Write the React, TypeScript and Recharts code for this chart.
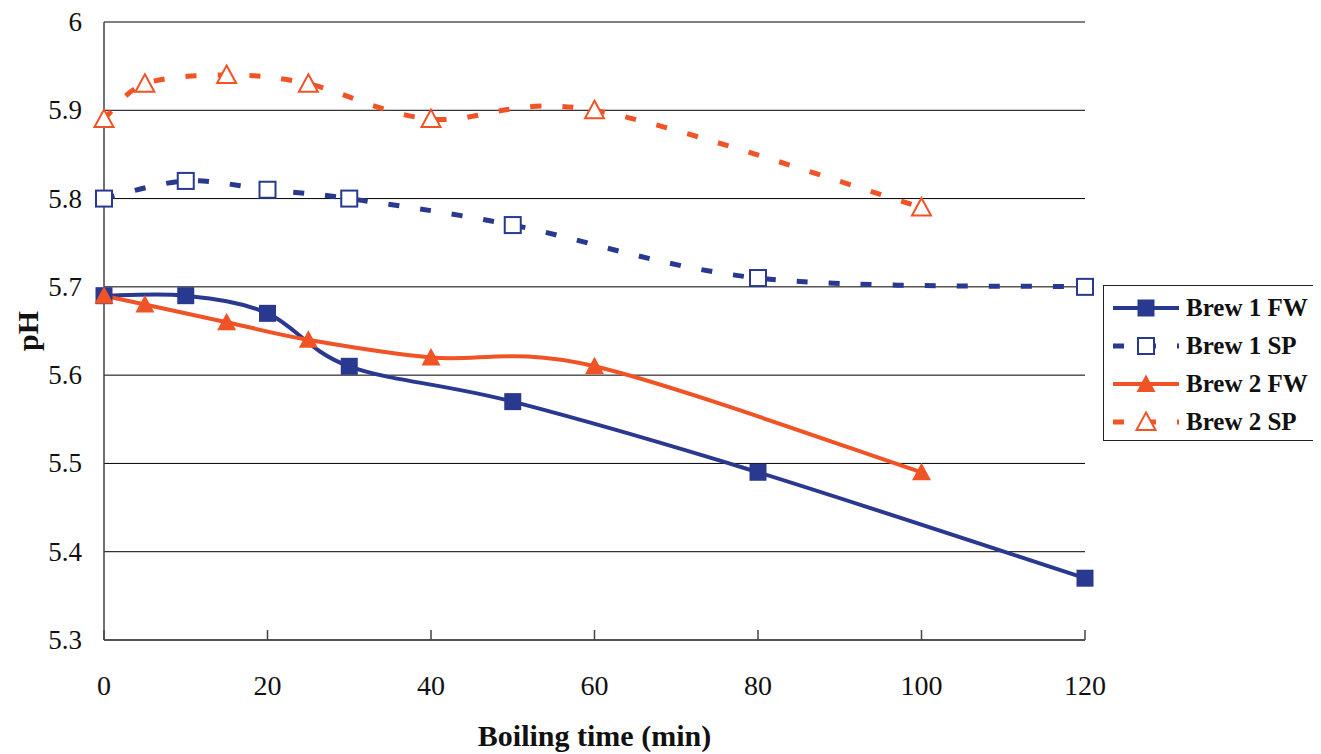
import React from 'react';
import { LineChart, Line, XAxis, YAxis, CartesianGrid, Legend, Label } from 'recharts';

// boiling time (min) per brew
const brew1Time = [0, 10, 20, 30, 50, 80, 120];
const brew2Time = [0, 5, 15, 25, 40, 60, 100];

// pH values
const brew1FW = [5.69, 5.69, 5.67, 5.61, 5.57, 5.49, 5.37];
const brew1SP = [5.8, 5.82, 5.81, 5.8, 5.77, 5.71, 5.7];
const brew2FW = [5.69, 5.68, 5.66, 5.64, 5.62, 5.61, 5.49];
const brew2SP = [5.89, 5.93, 5.94, 5.93, 5.89, 5.9, 5.79];

const timeTicks = [0, 20, 40, 60, 80, 100, 120];
const pHTicks = [5.3, 5.4, 5.5, 5.6, 5.7, 5.8, 5.9, 6];

const NAVY = '#2a3990';
const ORANGE = '#ef5326';
const FONT = "'Liberation Serif', 'Times New Roman', serif";

const toRows = (times: number[], values: number[]) =>
  times.map((t, i) => ({ t, pH: values[i] }));

// Excel-like smoothed line (Catmull-Rom through the points)
const smoothCurve = (context: any) => {
  let pts: [number, number][] = [];
  return {
    areaStart() {},
    areaEnd() {},
    lineStart() {
      pts = [];
    },
    lineEnd() {
      if (!pts.length) return;
      context.moveTo(pts[0][0], pts[0][1]);
      for (let i = 0; i < pts.length - 1; i++) {
        const p0 = pts[i - 1] || pts[i];
        const p1 = pts[i];
        const p2 = pts[i + 1];
        const p3 = pts[i + 2] || p2;
        context.bezierCurveTo(
          p1[0] + (p2[0] - p0[0]) / 6,
          p1[1] + (p2[1] - p0[1]) / 6,
          p2[0] - (p3[0] - p1[0]) / 6,
          p2[1] - (p3[1] - p1[1]) / 6,
          p2[0],
          p2[1]
        );
      }
    },
    point(x: number, y: number) {
      pts.push([x, y]);
    },
  };
};

type MarkerKind = 'square' | 'openSquare' | 'triangle' | 'openTriangle';

const Marker = ({ cx, cy, kind, color }: { cx: number; cy: number; kind: MarkerKind; color: string }) => {
  if (kind === 'square') return <rect x={cx - 8.5} y={cy - 8.5} width={17} height={17} fill={color} />;
  if (kind === 'openSquare')
    return <rect x={cx - 8} y={cy - 8} width={16} height={16} fill="#fff" stroke={color} strokeWidth={2} />;
  const pts = `${cx},${cy - 9.5} ${cx + 9.5},${cy + 8} ${cx - 9.5},${cy + 8}`;
  if (kind === 'triangle') return <polygon points={pts} fill={color} />;
  return <polygon points={pts} fill="#fff" stroke={color} strokeWidth={2} />;
};

const series = [
  { name: 'Brew 1 FW', data: toRows(brew1Time, brew1FW), color: NAVY, dash: undefined, marker: 'square' as MarkerKind },
  { name: 'Brew 1 SP', data: toRows(brew1Time, brew1SP), color: NAVY, dash: '11 21', marker: 'openSquare' as MarkerKind },
  { name: 'Brew 2 FW', data: toRows(brew2Time, brew2FW), color: ORANGE, dash: undefined, marker: 'triangle' as MarkerKind },
  { name: 'Brew 2 SP', data: toRows(brew2Time, brew2SP), color: ORANGE, dash: '11 21', marker: 'openTriangle' as MarkerKind },
];

const tickStyle = { fontFamily: FONT, fill: '#111' };

const XTick = ({ x, y, payload }: any) => (
  <text x={x} y={y} dy={20} textAnchor="middle" fontSize={28} style={tickStyle}>
    {payload.value}
  </text>
);

const YTick = ({ x, y, payload }: any) => (
  <text x={x} y={y} dy={9} textAnchor="end" fontSize={27} style={tickStyle}>
    {payload.value}
  </text>
);

const renderLegend = () => (
  <div
    style={{
      width: 214,
      height: 156,
      boxSizing: 'border-box',
      border: '1px solid #222',
      background: '#fff',
      paddingTop: 3,
    }}
  >
    {series.map((s) => (
      <div key={s.name} style={{ display: 'flex', alignItems: 'center', height: 38 }}>
        <svg width={80} height={30} style={{ marginLeft: 2 }}>
          <line x1={7} y1={15} x2={73} y2={15} stroke={s.color} strokeWidth={s.dash ? 5 : 4} strokeDasharray={s.dash} />
          <Marker cx={40} cy={15} kind={s.marker} color={s.color} />
        </svg>
        <span style={{ fontFamily: FONT, fontWeight: 'bold', fontSize: 25, color: '#111' }}>{s.name}</span>
      </div>
    ))}
  </div>
);

export default function App() {
  return (
    <div style={{ width: 1313, height: 746, fontFamily: FONT }}>
      <LineChart width={1313} height={746} margin={{ top: 14, right: 236, bottom: 0, left: 0 }}>
        <CartesianGrid vertical={false} stroke="#000" strokeWidth={1} />
        <XAxis
          type="number"
          dataKey="t"
          domain={[0, 120]}
          ticks={timeTicks}
          allowDuplicatedCategory={false}
          height={114}
          stroke="#444"
          strokeWidth={1.5}
          tickSize={-10}
          tickMargin={45}
          tick={<XTick />}
        >
          <Label
            value="Boiling time (min)"
            position="insideBottom"
            offset={8}
            style={{ fontSize: 30, fontWeight: 'bold', fill: '#111', fontFamily: FONT }}
          />
        </XAxis>
        <YAxis
          type="number"
          domain={[5.3, 6]}
          ticks={pHTicks}
          width={96}
          stroke="#444"
          strokeWidth={1.5}
          tickLine={false}
          tickSize={8}
          tickMargin={14}
          tick={<YTick />}
        >
          <Label
            value="pH"
            angle={-90}
            position="insideLeft"
            offset={19}
            style={{ fontSize: 30, fontWeight: 'bold', fill: '#111', fontFamily: FONT, textAnchor: 'middle' }}
          />
        </YAxis>
        <Legend
          layout="vertical"
          align="center"
          verticalAlign="middle"
          content={renderLegend}
          wrapperStyle={{ left: 1095, top: 277, width: 214, height: 156 }}
        />
        {series.map((s) => (
          <Line
            key={s.name}
            name={s.name}
            data={s.data}
            dataKey="pH"
            type={smoothCurve as any}
            stroke={s.color}
            strokeWidth={s.dash ? 5 : 4}
            strokeDasharray={s.dash}
            isAnimationActive={false}
            dot={(p: any) => <Marker key={`${s.name}-${p.index}`} cx={p.cx} cy={p.cy} kind={s.marker} color={s.color} />}
            activeDot={false}
          />
        ))}
      </LineChart>
    </div>
  );
}
